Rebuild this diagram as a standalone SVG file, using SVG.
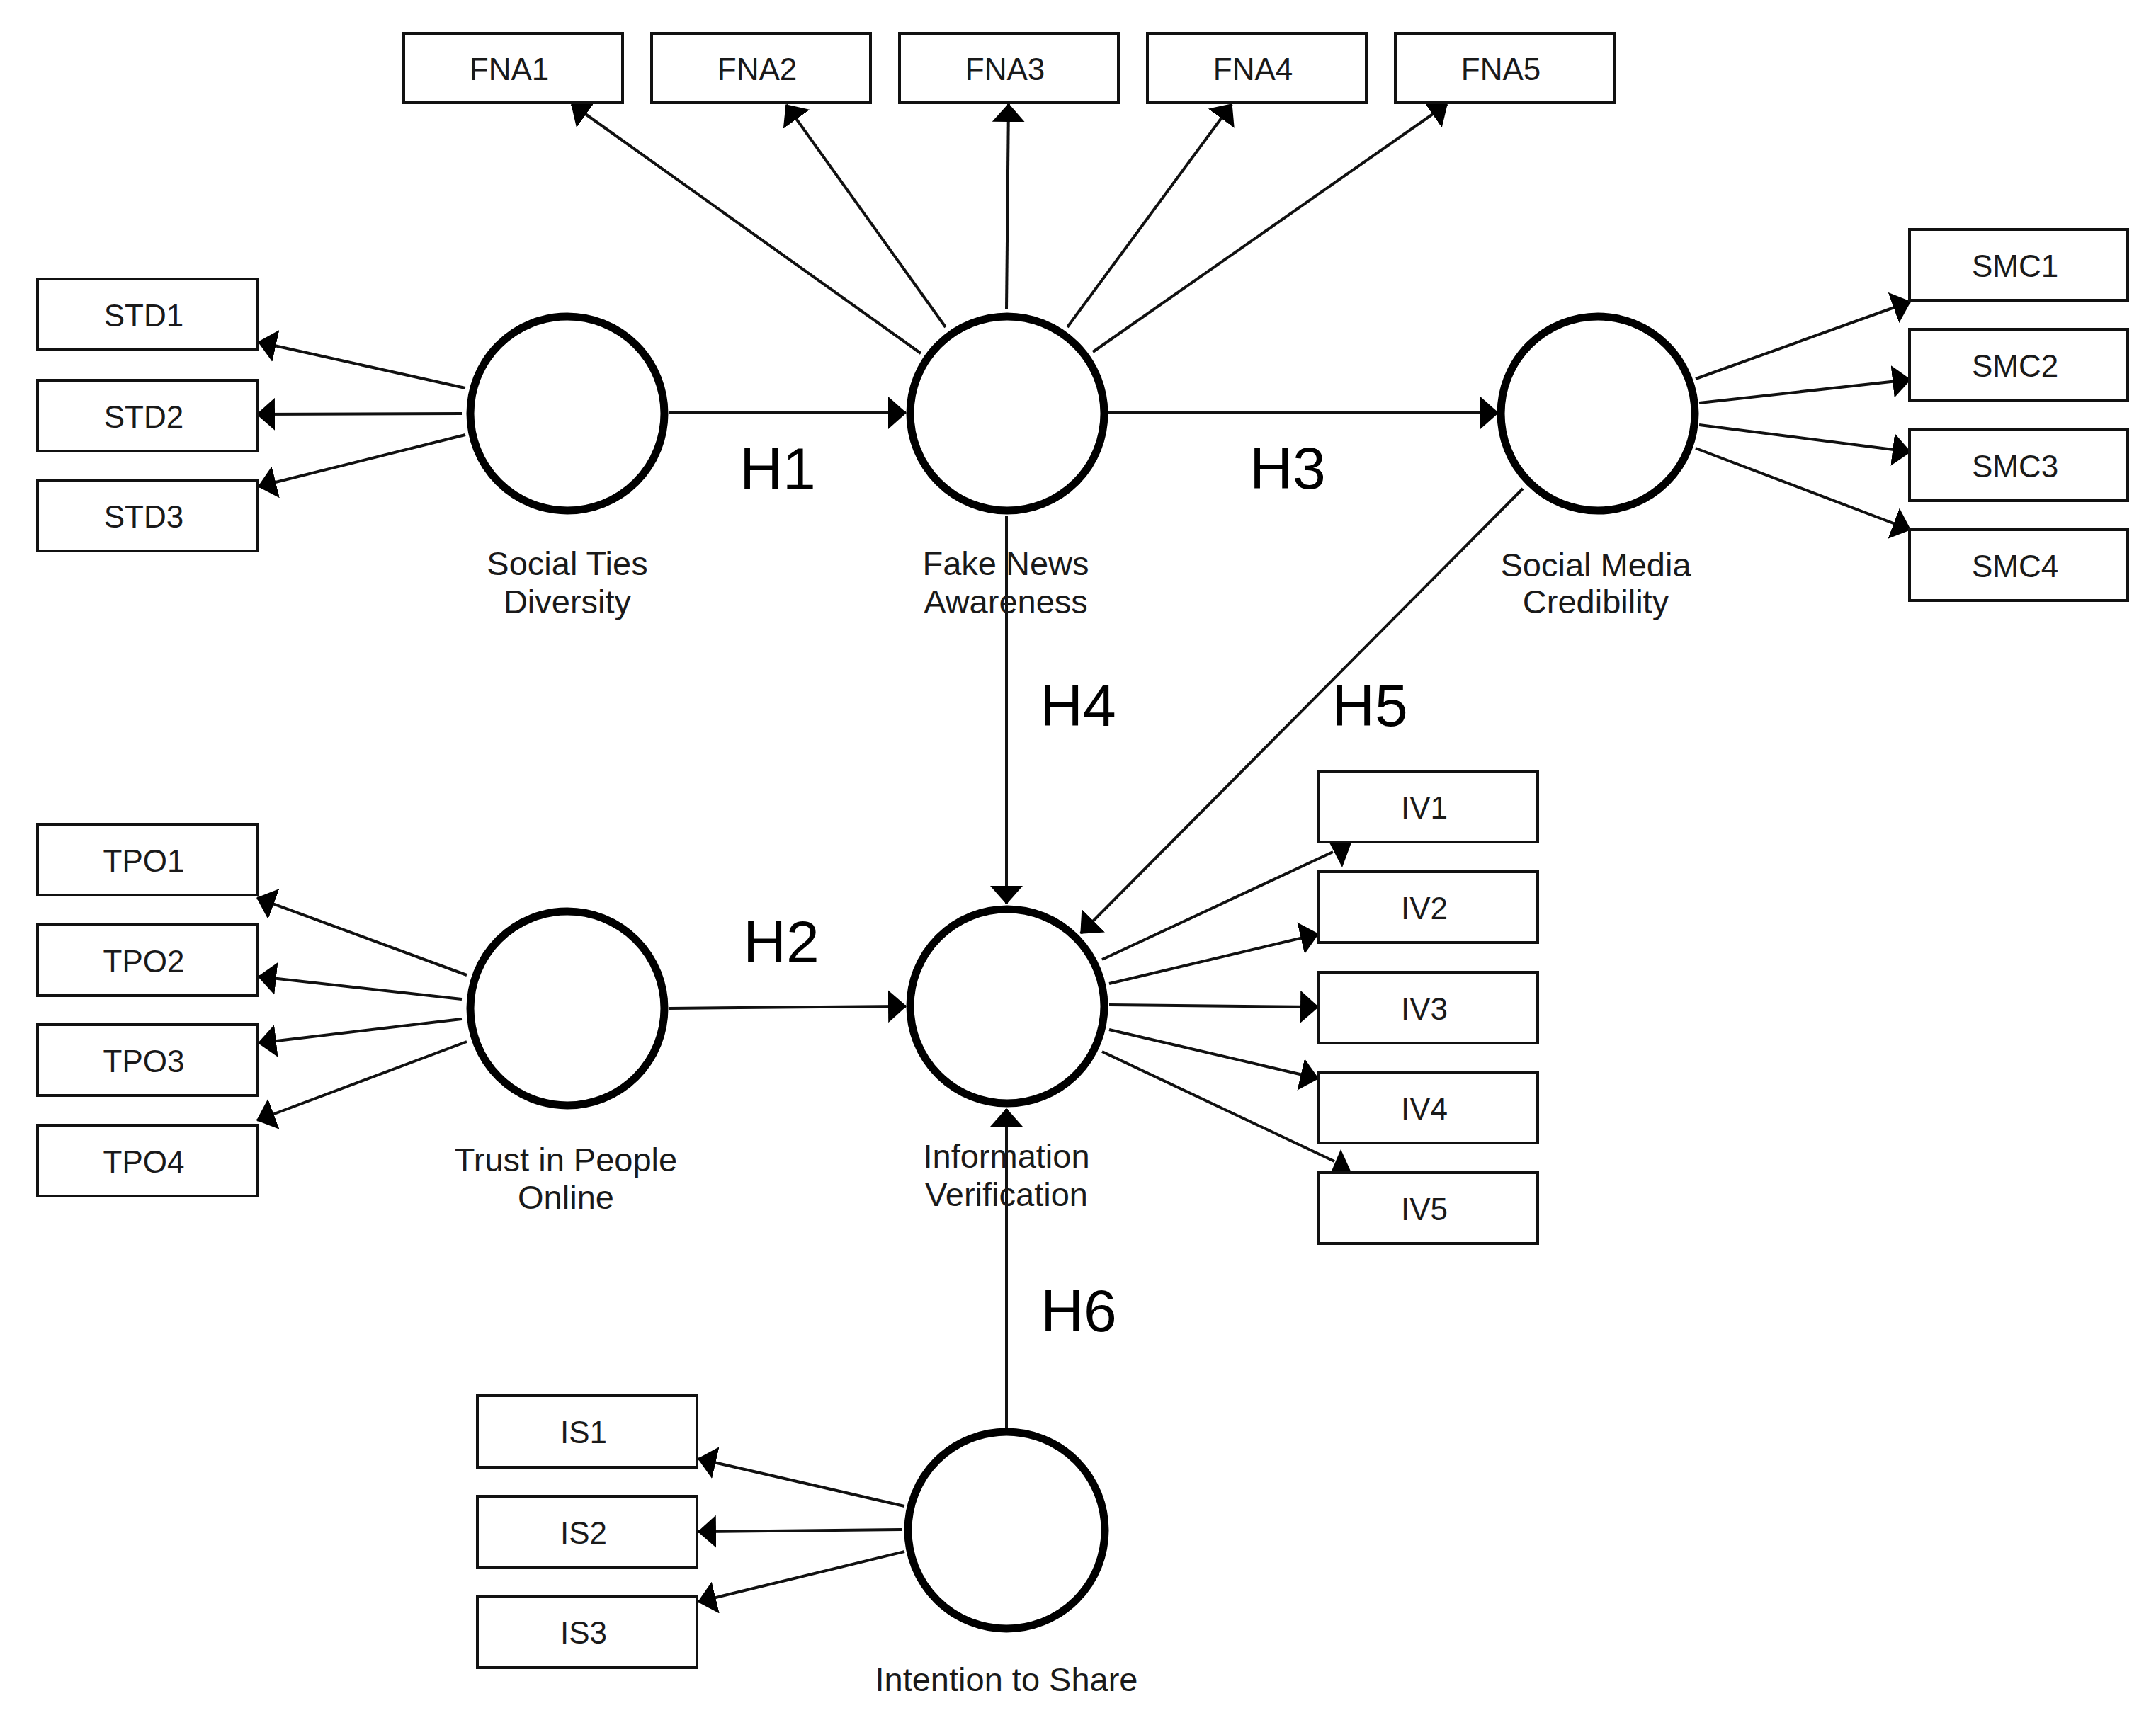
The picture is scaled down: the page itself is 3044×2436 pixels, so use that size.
<svg xmlns="http://www.w3.org/2000/svg" width="3044" height="2436" viewBox="0 0 3044 2436">
<defs>
<style>
.box{fill:#fff;stroke:#111;stroke-width:4}
.lv{fill:#fff;stroke:#000;stroke-width:11}
.bt{font-family:"Liberation Sans",Arial,sans-serif;font-size:44px;fill:#1a1a1a;text-anchor:middle}
.lt{font-family:"Liberation Sans",Arial,sans-serif;font-size:47px;fill:#1a1a1a;text-anchor:middle}
.ht{font-family:"Liberation Sans",Arial,sans-serif;font-size:84px;fill:#000;text-anchor:middle}
.c{stroke:#111;stroke-width:4;fill:none;marker-end:url(#ah)}
.cn{stroke:#111;stroke-width:4;fill:none}
.ah{fill:#000}
</style>
<marker id="ah" viewBox="0 0 26 46" markerUnits="userSpaceOnUse" markerWidth="26" markerHeight="46" refX="25" refY="23" orient="auto">
<path d="M0,0 L26,23 L0,46 z" fill="#000"/>
</marker>
</defs>
<rect width="3044" height="2436" fill="#fff"/>

<g id="connectors">
<line class="c" x1="657" y1="548" x2="365" y2="483"/>
<line class="c" x1="652" y1="584" x2="363" y2="585"/>
<line class="c" x1="657" y1="614" x2="365" y2="687"/>
<line class="c" x1="945" y1="583" x2="1279" y2="583"/>
<line class="c" x1="1300" y1="499" x2="807" y2="147"/>
<line class="c" x1="1335" y1="462" x2="1110" y2="148"/>
<line class="c" x1="1421" y1="436" x2="1424" y2="147"/>
<line class="c" x1="1507" y1="462" x2="1739" y2="147"/>
<line class="c" x1="1543" y1="497" x2="2043" y2="147"/>
<line class="c" x1="1565" y1="583" x2="2115" y2="583"/>
<line class="c" x1="2394" y1="535" x2="2697" y2="426"/>
<line class="c" x1="2399" y1="569" x2="2697" y2="536"/>
<line class="c" x1="2399" y1="600" x2="2697" y2="638"/>
<line class="c" x1="2394" y1="633" x2="2697" y2="748"/>
<line class="c" x1="1421" y1="728" x2="1421" y2="1276"/>
<line class="c" x1="2150" y1="690" x2="1526" y2="1318"/>
<line class="c" x1="659" y1="1377" x2="363" y2="1268"/>
<line class="c" x1="652" y1="1411" x2="365" y2="1379"/>
<line class="c" x1="652" y1="1439" x2="365" y2="1473"/>
<line class="c" x1="659" y1="1471" x2="363" y2="1582"/>
<line class="c" x1="945" y1="1424" x2="1279" y2="1421"/>
<line class="cn" x1="1556" y1="1355" x2="1882" y2="1203"/>
<polygon class="ah" points="1877,1190 1908,1190 1895,1225"/>
<line class="c" x1="1566" y1="1389" x2="1861" y2="1319"/>
<line class="c" x1="1566" y1="1419" x2="1861" y2="1422"/>
<line class="c" x1="1566" y1="1454" x2="1861" y2="1523"/>
<line class="cn" x1="1556" y1="1485" x2="1884" y2="1640"/>
<polygon class="ah" points="1879,1656 1908,1656 1893,1623"/>
<line class="c" x1="1421" y1="2017" x2="1421" y2="1566"/>
<line class="c" x1="1277" y1="2127" x2="986" y2="2060"/>
<line class="c" x1="1273" y1="2160" x2="986" y2="2163"/>
<line class="c" x1="1277" y1="2191" x2="986" y2="2262"/>
</g>

<g id="STD1"><rect class="box" x="53" y="394" width="310" height="100"/><text class="bt" x="203" y="461">STD1</text></g>
<g id="STD2"><rect class="box" x="53" y="537" width="310" height="100"/><text class="bt" x="203" y="604">STD2</text></g>
<g id="STD3"><rect class="box" x="53" y="678" width="310" height="100"/><text class="bt" x="203" y="745">STD3</text></g>

<g id="FNA1"><rect class="box" x="570" y="47" width="309" height="98"/><text class="bt" x="719" y="113">FNA1</text></g>
<g id="FNA2"><rect class="box" x="920" y="47" width="309" height="98"/><text class="bt" x="1069" y="113">FNA2</text></g>
<g id="FNA3"><rect class="box" x="1270" y="47" width="309" height="98"/><text class="bt" x="1419" y="113">FNA3</text></g>
<g id="FNA4"><rect class="box" x="1620" y="47" width="309" height="98"/><text class="bt" x="1769" y="113">FNA4</text></g>
<g id="FNA5"><rect class="box" x="1970" y="47" width="309" height="98"/><text class="bt" x="2119" y="113">FNA5</text></g>

<g id="SMC1"><rect class="box" x="2696" y="324" width="308" height="100"/><text class="bt" x="2845" y="391">SMC1</text></g>
<g id="SMC2"><rect class="box" x="2696" y="465" width="308" height="100"/><text class="bt" x="2845" y="532">SMC2</text></g>
<g id="SMC3"><rect class="box" x="2696" y="607" width="308" height="100"/><text class="bt" x="2845" y="674">SMC3</text></g>
<g id="SMC4"><rect class="box" x="2696" y="748" width="308" height="100"/><text class="bt" x="2845" y="815">SMC4</text></g>

<g id="TPO1"><rect class="box" x="53" y="1164" width="310" height="100"/><text class="bt" x="203" y="1231">TPO1</text></g>
<g id="TPO2"><rect class="box" x="53" y="1306" width="310" height="100"/><text class="bt" x="203" y="1373">TPO2</text></g>
<g id="TPO3"><rect class="box" x="53" y="1447" width="310" height="100"/><text class="bt" x="203" y="1514">TPO3</text></g>
<g id="TPO4"><rect class="box" x="53" y="1589" width="310" height="100"/><text class="bt" x="203" y="1656">TPO4</text></g>

<g id="IV1"><rect class="box" x="1862" y="1089" width="309" height="100"/><text class="bt" x="2011" y="1156">IV1</text></g>
<g id="IV2"><rect class="box" x="1862" y="1231" width="309" height="100"/><text class="bt" x="2011" y="1298">IV2</text></g>
<g id="IV3"><rect class="box" x="1862" y="1373" width="309" height="100"/><text class="bt" x="2011" y="1440">IV3</text></g>
<g id="IV4"><rect class="box" x="1862" y="1514" width="309" height="100"/><text class="bt" x="2011" y="1581">IV4</text></g>
<g id="IV5"><rect class="box" x="1862" y="1656" width="309" height="100"/><text class="bt" x="2011" y="1723">IV5</text></g>

<g id="IS1"><rect class="box" x="674" y="1971" width="310" height="101"/><text class="bt" x="824" y="2038">IS1</text></g>
<g id="IS2"><rect class="box" x="674" y="2113" width="310" height="101"/><text class="bt" x="824" y="2180">IS2</text></g>
<g id="IS3"><rect class="box" x="674" y="2254" width="310" height="101"/><text class="bt" x="824" y="2321">IS3</text></g>

<g id="SocialTiesDiversity"><circle class="lv" cx="801" cy="584" r="137"/><text class="lt" x="801" y="812">Social Ties</text><text class="lt" x="801" y="866">Diversity</text></g>
<g id="FakeNewsAwareness"><circle class="lv" cx="1422" cy="584" r="137"/><text class="lt" x="1420" y="812">Fake News</text><text class="lt" x="1420" y="866">Awareness</text></g>
<g id="SocialMediaCredibility"><circle class="lv" cx="2256" cy="584" r="137"/><text class="lt" x="2253" y="814">Social Media</text><text class="lt" x="2253" y="866">Credibility</text></g>
<g id="TrustInPeopleOnline"><circle class="lv" cx="801" cy="1424" r="137"/><text class="lt" x="799" y="1654">Trust in People</text><text class="lt" x="799" y="1707">Online</text></g>
<g id="InformationVerification"><circle class="lv" cx="1422" cy="1421" r="137"/><text class="lt" x="1421" y="1649">Information</text><text class="lt" x="1421" y="1703">Verification</text></g>
<g id="IntentionToShare"><circle class="lv" cx="1421" cy="2161" r="139"/><text class="lt" x="1421" y="2388">Intention to Share</text></g>

<g id="hypotheses">
<text class="ht" x="1098" y="691">H1</text>
<text class="ht" x="1103" y="1359">H2</text>
<text class="ht" x="1818" y="690">H3</text>
<text class="ht" x="1522" y="1025">H4</text>
<text class="ht" x="1934" y="1025">H5</text>
<text class="ht" x="1523" y="1880">H6</text>
</g>
</svg>
